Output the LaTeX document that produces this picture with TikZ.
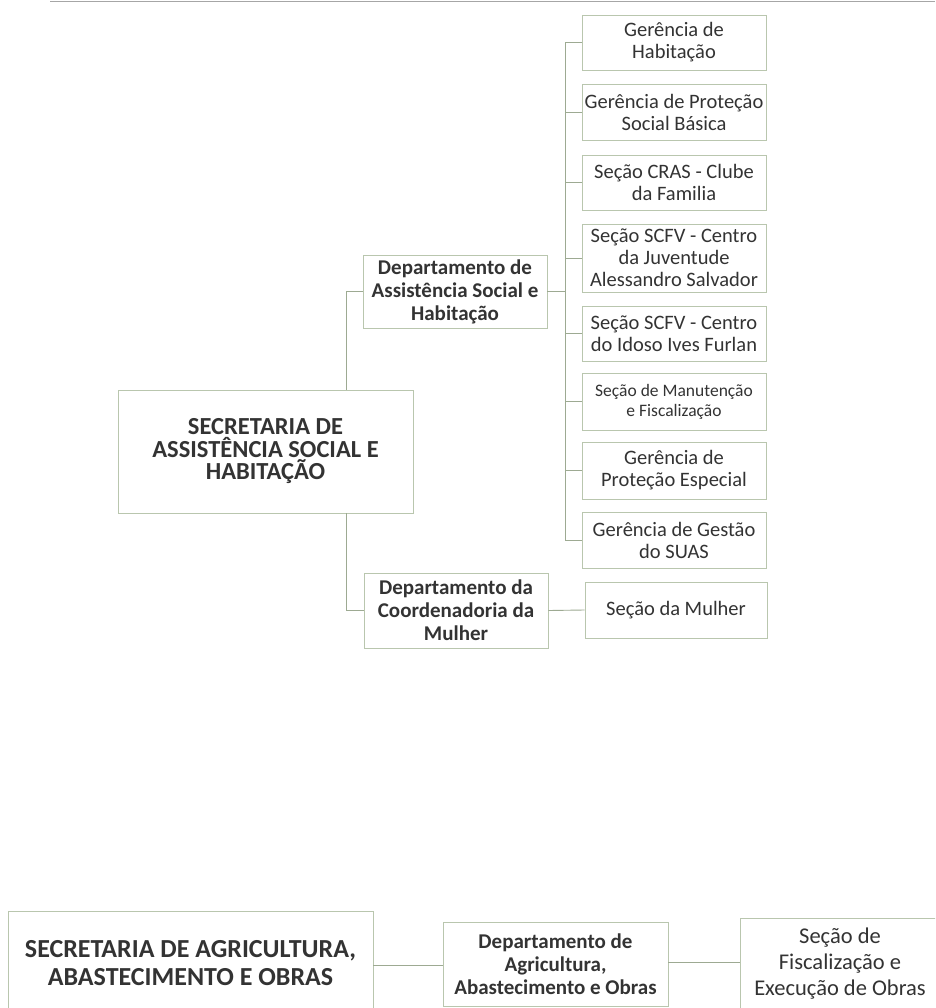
\documentclass[tikz,border=0pt]{standalone}
\usepackage{fontspec}
\setmainfont{Carlito}
\definecolor{boxc}{HTML}{B9C6AE}
\definecolor{linec}{HTML}{9DAA92}
\definecolor{txt}{HTML}{333333}
\begin{document}
\begin{tikzpicture}[x=1pt,y=-1pt,
  box/.style={draw=boxc, line width=0.9pt, fill=white, align=center, inner sep=1pt, text=txt},
  leaf/.style={box, minimum width=184pt, font=\fontsize{20.5}{22}\selectfont},
  dept/.style={box, minimum width=184pt, font=\bfseries\fontsize{21}{23}\selectfont},
  sec/.style={box, font=\bfseries\fontsize{24.5}{22.5}\selectfont},
  conn/.style={draw=linec, line width=0.9pt}]
\useasboundingbox[fill=white] (0,0) rectangle (935,1008);
\clip (0,0) rectangle (935,1008);
% scan edge at the top
\draw[gray!70, line width=1.6pt] (50,1.5) -- (935,1.5);

% upper chart
\node[leaf, minimum height=55pt] (c1) at (674,42.5) {Gerência de\\Habitação};
\node[leaf, minimum height=56pt] (c2) at (674,112) {Gerência de Proteção\\Social Básica};
\node[leaf, minimum height=55pt] (c3) at (674,182.5) {Seção CRAS - Clube\\da Familia};
\node[leaf, minimum height=68pt] (c4) at (674,258) {Seção SCFV - Centro\\da Juventude\\Alessandro Salvador};
\node[leaf, minimum height=55pt] (c5) at (674,333.5) {Seção SCFV - Centro\\do Idoso Ives Furlan};
\node[leaf, minimum height=57pt, font=\fontsize{17.5}{20}\selectfont] (c6) at (674,401.5) {Seção de Manutenção\\e Fiscalização};
\node[leaf, minimum height=57pt] (c7) at (674,470.5) {Gerência de\\Proteção Especial};
\node[leaf, minimum height=56pt] (c8) at (674,540) {Gerência de Gestão\\do SUAS};
\node[leaf, minimum height=56pt, minimum width=182pt] (cm) at (676,610) {Seção da Mulher};

\node[dept, minimum height=73pt] (d1) at (455,291.5) {Departamento de\\Assistência Social e\\Habitação};
\node[dept, minimum height=75pt] (d2) at (456,610.5) {Departamento da\\Coordenadoria da\\Mulher};
\node[sec, minimum width=295pt, minimum height=123pt] (m) at (265.5,451.5) {SECRETARIA DE\\ASSISTÊNCIA SOCIAL E\\HABITAÇÃO};

\coordinate (bx) at (565,0);
\coordinate (vx) at (346,0);
\draw[conn] (c1.west) -- (c1.west -| bx) |- (c8.west);
\foreach \n in {c2,c3,c4,c5,c6,c7}{\draw[conn] (\n.west -| bx) -- (\n.west);}
\draw[conn] (d1.east) -- (d1.east -| bx);
\draw[conn] (m.north -| vx) |- (d1.west);
\draw[conn] (m.south -| vx) |- (d2.west);
\draw[conn] (d2.east) -- (cm.west);

% lower chart
\node[box, minimum width=365pt, minimum height=104pt, font=\bfseries\fontsize{26}{28}\selectfont] (a) at (190.5,963) {SECRETARIA DE AGRICULTURA,\\ABASTECIMENTO E OBRAS};
\node[box, minimum width=225pt, minimum height=84pt, font=\bfseries\fontsize{21}{23}\selectfont] (b) at (555.5,964) {Departamento de\\Agricultura,\\Abastecimento e Obras};
\node[box, minimum width=200pt, minimum height=92pt, font=\fontsize{22.5}{26}\selectfont] (c) at (840,964) {Seção de\\Fiscalização e\\Execução de Obras};
\draw[conn] (a.east |- 0,965) -- (b.west |- 0,965);
\draw[conn] (b.east |- 0,962) -- (c.west |- 0,962);
\end{tikzpicture}
\end{document}
